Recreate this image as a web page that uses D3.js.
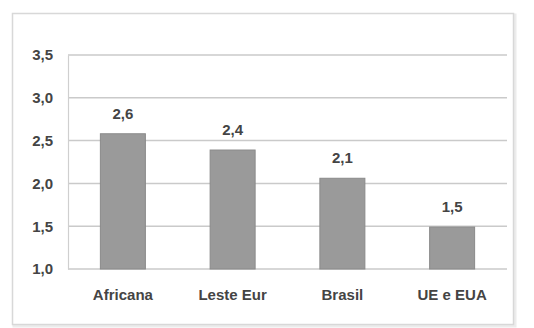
<!DOCTYPE html>
<html><head><meta charset="utf-8">
<script src="https://cdn.jsdelivr.net/npm/d3@7/dist/d3.min.js"></script>
<style>html,body{margin:0;padding:0;background:#fff;}svg{display:block;}</style>
</head><body>
<svg id="c" width="534" height="328"></svg>
<script>
const categories = ["Africana", "Leste Eur", "Brasil", "UE e EUA"];
const values = [2.58, 2.39, 2.06, 1.49];
const yTicks = [1.0, 1.5, 2.0, 2.5, 3.0, 3.5];

const svg = d3.select("#c");
const W = 534, H = 328;
const m = {left: 68, right: 27, top: 55, bottom: 59};
const fmt = v => d3.format(".1f")(v).replace(".", ",");
const FONT = "Liberation Sans, Arial, sans-serif";

// frame
svg.append("rect").attr("x", 14).attr("y", 15).attr("width", 501).attr("height", 311)
  .attr("fill", "none").attr("stroke", "#ececec").attr("stroke-width", 3);
svg.append("rect").attr("x", 12.5).attr("y", 13.5).attr("width", 501).attr("height", 311)
  .attr("fill", "#fff").attr("stroke", "#d8d8d8").attr("stroke-width", 1.5);

const x = d3.scaleBand().domain(categories).range([m.left, W - m.right]).paddingInner(0.59).paddingOuter(0.295);
const y = d3.scaleLinear().domain([1.0, 3.5]).range([H - m.bottom, m.top]);

// gridlines
svg.append("g").selectAll("line").data(yTicks).join("line")
  .attr("x1", m.left).attr("x2", W - m.right)
  .attr("y1", d => y(d)).attr("y2", d => y(d))
  .attr("stroke", "#cacaca").attr("stroke-width", 1.5);

// y axis
const ya = svg.append("g").attr("transform", `translate(${m.left},0)`)
  .call(d3.axisLeft(y).tickValues(yTicks).tickFormat(fmt).tickSize(0).tickPadding(15));
ya.select(".domain").attr("stroke", "#cfcfcf").attr("stroke-width", 1.2);
ya.selectAll("text").attr("font-family", FONT).attr("font-size", 15).attr("font-weight", "bold").attr("fill", "#444");

// bars
svg.append("g").selectAll("rect").data(values).join("rect")
  .attr("x", (d, i) => x(categories[i]))
  .attr("width", x.bandwidth())
  .attr("y", d => y(d))
  .attr("height", d => y(1.0) - y(d))
  .attr("fill", "#9a9a9a").attr("stroke", "#8a8a8a").attr("stroke-width", 1);

// value labels
svg.append("g").selectAll("text").data(values).join("text")
  .attr("x", (d, i) => x(categories[i]) + x.bandwidth() / 2)
  .attr("y", d => y(d) - 15)
  .attr("text-anchor", "middle")
  .attr("font-family", FONT).attr("font-size", 15).attr("font-weight", "bold").attr("fill", "#444")
  .text(d => fmt(d));

// x axis labels
const xa = svg.append("g").attr("transform", `translate(0,${H - m.bottom})`)
  .call(d3.axisBottom(x).tickSize(0).tickPadding(20));
xa.select(".domain").remove();
xa.selectAll("text").attr("font-family", FONT).attr("font-size", 15).attr("font-weight", "bold").attr("fill", "#444");
</script>
</body></html>
